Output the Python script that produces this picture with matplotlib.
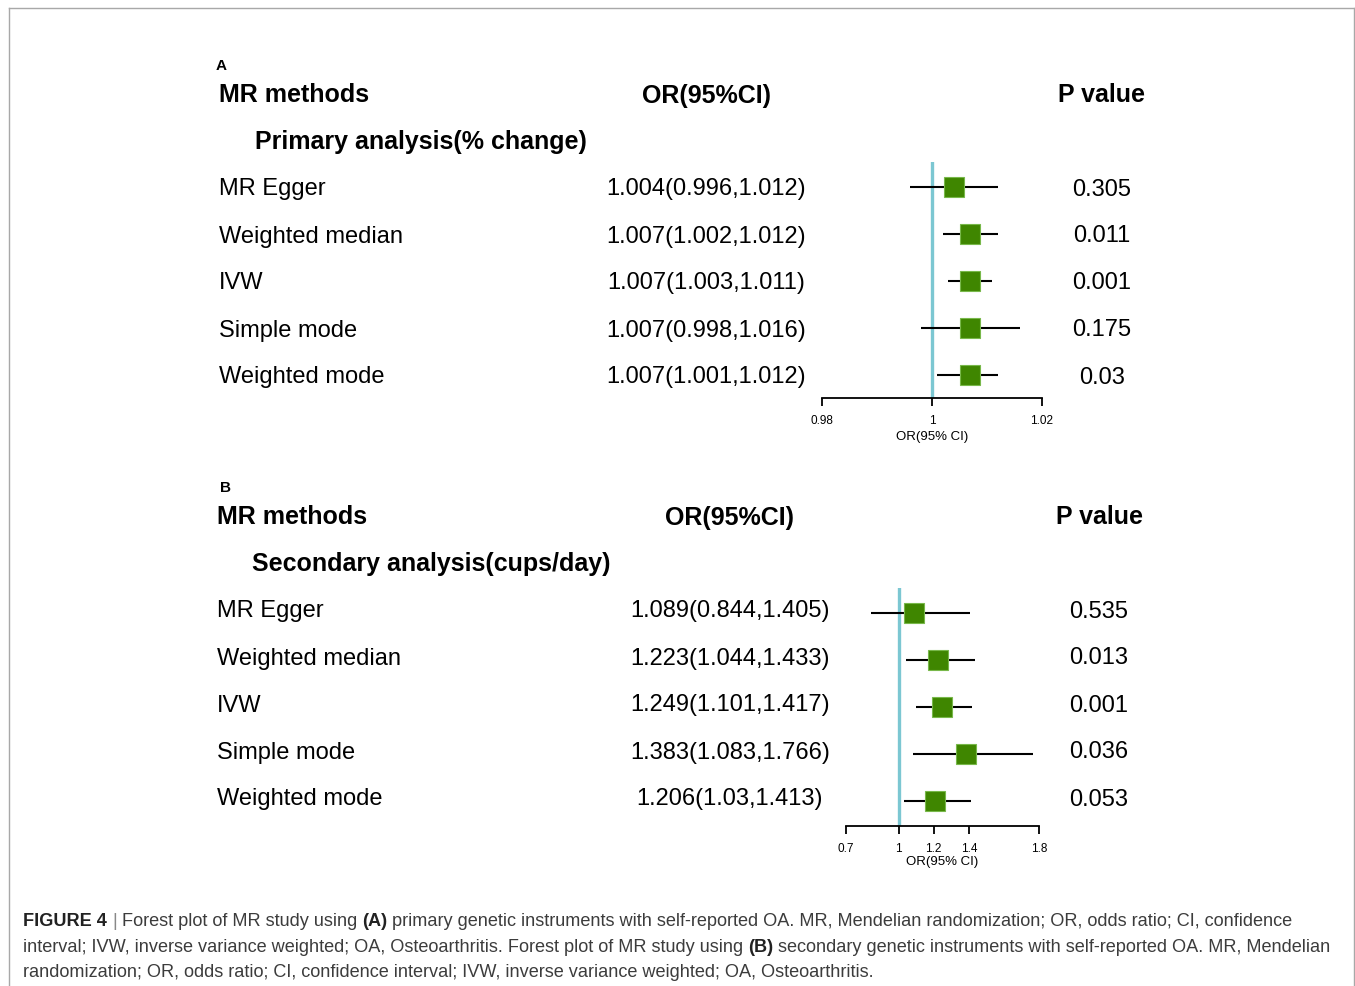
import matplotlib
matplotlib.use("Agg")
import matplotlib.pyplot as plt
from matplotlib.lines import Line2D

plt.rcParams["font.family"] = ["Liberation Sans", "DejaVu Sans"]

W, H = 1355, 986

methods = ["MR Egger", "Weighted median", "IVW", "Simple mode", "Weighted mode"]

# panel A: primary analysis (% change)
or_a = [1.004, 1.007, 1.007, 1.007, 1.007]
lo_a = [0.996, 1.002, 1.003, 0.998, 1.001]
hi_a = [1.012, 1.012, 1.011, 1.016, 1.012]
p_a = ["0.305", "0.011", "0.001", "0.175", "0.03"]
ticks_a = [0.98, 1, 1.02]
ticklabels_a = ["0.98", "1", "1.02"]

# panel B: secondary analysis (cups/day)
or_b = [1.089, 1.223, 1.249, 1.383, 1.206]
lo_b = [0.844, 1.044, 1.101, 1.083, 1.03]
hi_b = [1.405, 1.433, 1.417, 1.766, 1.413]
p_b = ["0.535", "0.013", "0.001", "0.036", "0.053"]
ticks_b = [0.7, 1, 1.2, 1.4, 1.8]
ticklabels_b = ["0.7", "1", "1.2", "1.4", "1.8"]


def fx(px):
    return px / W


def fy(py):
    return 1 - py / H


fig = plt.figure(figsize=(W / 100, H / 100), dpi=100)

# light frame around the figure panel
for xs, ys in [([9, 1354], [8, 8]), ([9, 9], [8, 986]), ([1354, 1354], [8, 986])]:
    fig.add_artist(Line2D([fx(x) for x in xs], [fy(y) for y in ys],
                          color="#a8a8a8", lw=1.0, transform=fig.transFigure))


def forest(letter, lx, top, x_lab, x_or, x_p, section, sec_x,
           est, lo, hi, pvals, ax_box, ylim_pad, ticks, ticklabels, labelpad):
    fig.text(fx(lx), fy(top + 10), letter, fontsize=11, fontweight="bold",
             va="baseline")
    hy = top + 29
    fig.text(fx(x_lab), fy(hy + 13.5), "MR methods", fontsize=18,
             fontweight="bold", va="baseline")
    fig.text(fx(x_or), fy(hy + 13.5), "OR(95%CI)", fontsize=18,
             fontweight="bold", va="baseline", ha="center")
    fig.text(fx(x_p), fy(hy + 13.5), "P value", fontsize=18,
             fontweight="bold", va="baseline", ha="center")
    fig.text(fx(sec_x), fy(hy + 47 + 13.5), section, fontsize=18,
             fontweight="bold", va="baseline")
    row0 = hy + 94
    for i, m in enumerate(methods):
        yb = row0 + 47 * i + 12.5
        fig.text(fx(x_lab), fy(yb), m, fontsize=17, va="baseline")
        fig.text(fx(x_or), fy(yb), f"{est[i]:g}({lo[i]:g},{hi[i]:g})",
                 fontsize=17, va="baseline", ha="center")
        fig.text(fx(x_p), fy(yb), pvals[i], fontsize=17, va="baseline",
                 ha="center")

    x0, x1, ytop, ybot = ax_box
    ax = fig.add_axes([fx(x0), fy(ybot), (x1 - x0) / W, (ybot - ytop) / H])
    rows = list(range(1, len(methods) + 1))
    ax.axvline(1, color="#7cc7d2", lw=2.4, zorder=1)
    ax.hlines(rows, lo, hi, color="black", lw=1.5, zorder=2)
    ax.plot(est, rows, "s", ms=14.5, color="#3f8600", mec="#78b84a",
            mew=0.8, zorder=3, ls="none")
    ax.set_xlim(ticks[0], ticks[-1])
    ax.set_ylim(len(methods) + ylim_pad[1], 1 - ylim_pad[0])
    for s in ["left", "right", "top"]:
        ax.spines[s].set_visible(False)
    ax.spines["bottom"].set_linewidth(1.3)
    ax.set_yticks([])
    ax.set_xticks(ticks)
    ax.set_xticklabels(ticklabels)
    ax.tick_params(axis="x", direction="out", length=6, width=1.3,
                   labelsize=8.5, pad=6)
    ax.set_xlabel("OR(95% CI)", fontsize=9.5, labelpad=labelpad)
    ax.patch.set_alpha(0)
    return ax


forest("A", 216, 60, 219, 706, 1102, "Primary analysis(% change)", 255,
       or_a, lo_a, hi_a, p_a, (822, 1042, 162, 398), (25 / 47, 23 / 47),
       ticks_a, ticklabels_a, 3)
forest("B", 220, 482, 217, 730, 1099, "Secondary analysis(cups/day)", 252,
       or_b, lo_b, hi_b, p_b, (846, 1039, 588, 826), (25 / 47, 25 / 47),
       ticks_b, ticklabels_b, 1)

# caption with bold runs, laid out piece by piece
renderer = fig.canvas.get_renderer()
cap_size = 13.05
cap_col = "#3c3c3c"


def width_of(s, weight="normal"):
    t = fig.text(0, 0, s, fontsize=cap_size, fontweight=weight)
    w = t.get_window_extent(renderer).width
    t.remove()
    return w


space = width_of("a a") - width_of("aa")

caption = [
    [("FIGURE 4", "bold", "#222222"), ("|", "normal", "#888888"),
     ("Forest plot of MR study using", "normal", cap_col), ("(A)", "bold", "#222222"),
     ("primary genetic instruments with self-reported OA. MR, Mendelian "
      "randomization; OR, odds ratio; CI, confidence", "normal", cap_col)],
    [("interval; IVW, inverse variance weighted; OA, Osteoarthritis. Forest "
      "plot of MR study using", "normal", cap_col), ("(B)", "bold", "#222222"),
     ("secondary genetic instruments with self-reported OA. MR, Mendelian",
      "normal", cap_col)],
    [("randomization; OR, odds ratio; CI, confidence interval; IVW, inverse "
      "variance weighted; OA, Osteoarthritis.", "normal", cap_col)],
]

for li, runs in enumerate(caption):
    x = 23
    yb = 926 + 25.5 * li
    for txt, wt, col in runs:
        t = fig.text(fx(x), fy(yb), txt, fontsize=cap_size, fontweight=wt,
                     color=col, va="baseline")
        x = t.get_window_extent(renderer).x1 + space

fig.savefig("out.png", dpi=100)
